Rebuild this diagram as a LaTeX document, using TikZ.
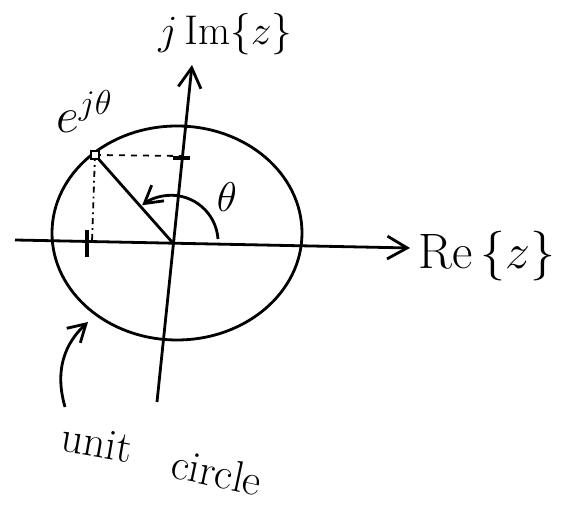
\documentclass[tikz,border=0pt]{standalone}
\usetikzlibrary{positioning, arrows.meta, calc}
\begin{document}
\begin{tikzpicture}[
    x=0.5pt, y=0.5pt, every node/.style={font=\fontsize{22}{26}\selectfont, inner sep=1pt},
    big/.style={font=\fontsize{26}{30}\selectfont},
    axis/.style={-{Straight Barb[length=3.5mm, width=4mm]}, line width=1.4pt},
    pen/.style={line width=1.4pt},
    guide/.style={line width=0.9pt, dashed},
    tick/.style={line width=2pt}
  ]
\useasboundingbox (-172,-265) rectangle (398,242);

\coordinate (O)  at (0,0);
\coordinate (xl) at (-157,2);
\coordinate (xr) at (238,-6);
\coordinate (yb) at (-15,-160);
\coordinate (yt) at (20,177);
\coordinate (P)  at (-77,87);
\coordinate (Py) at (10,86);
\coordinate (Px) at (-80,0);

% unit circle
\draw[pen] (5,9) ellipse [x radius=125, y radius=107];

% axes
\draw[axis] (xl) -- (xr);
\draw[axis] (yb) -- (yt);

\node[big, right=3pt of xr, yshift=-4pt] (re) {$\mathrm{Re}\,\{z\}$};
\node[above right=4pt and -18pt of yt] (im) {$j\,\mathrm{Im}\{z\}$};

% point on the circle
\draw[pen] (P) -- (O);
\draw[guide] (P) -- (Py);
\draw[guide, dash dot] (P) -- (Px);
\draw[tick] ($(Py)+(-9,-2)$) -- ($(Py)+(8,-2)$);
\draw[tick] ($(Px)+(-5,12)$) -- ($(Px)+(-5,-15)$);
\draw[line width=0.9pt, fill=white] ($(P)+(-4,-4)$) rectangle ($(P)+(4,4)$);
\node[big, above left=10pt and -10pt of P] (ejt) {$e^{j\theta}$};

% angle
\draw[pen, -{Straight Barb[length=3mm, width=3.5mm]}] (46,3) arc [start angle=4, end angle=128, radius=47];
\node (th) at (55,45) {$\theta$};

% label
\coordinate (uc) at (-84,-80);
\draw[pen, -{Straight Barb[length=3mm, width=3.5mm]}] (-107,-165) .. controls (-120,-120) and (-100,-95) .. (uc);
\node[rotate=-10] (unit) at (-75,-201) {unit};
\node[rotate=-12] (circ) at (45,-230) {circle};
\end{tikzpicture}
\end{document}
